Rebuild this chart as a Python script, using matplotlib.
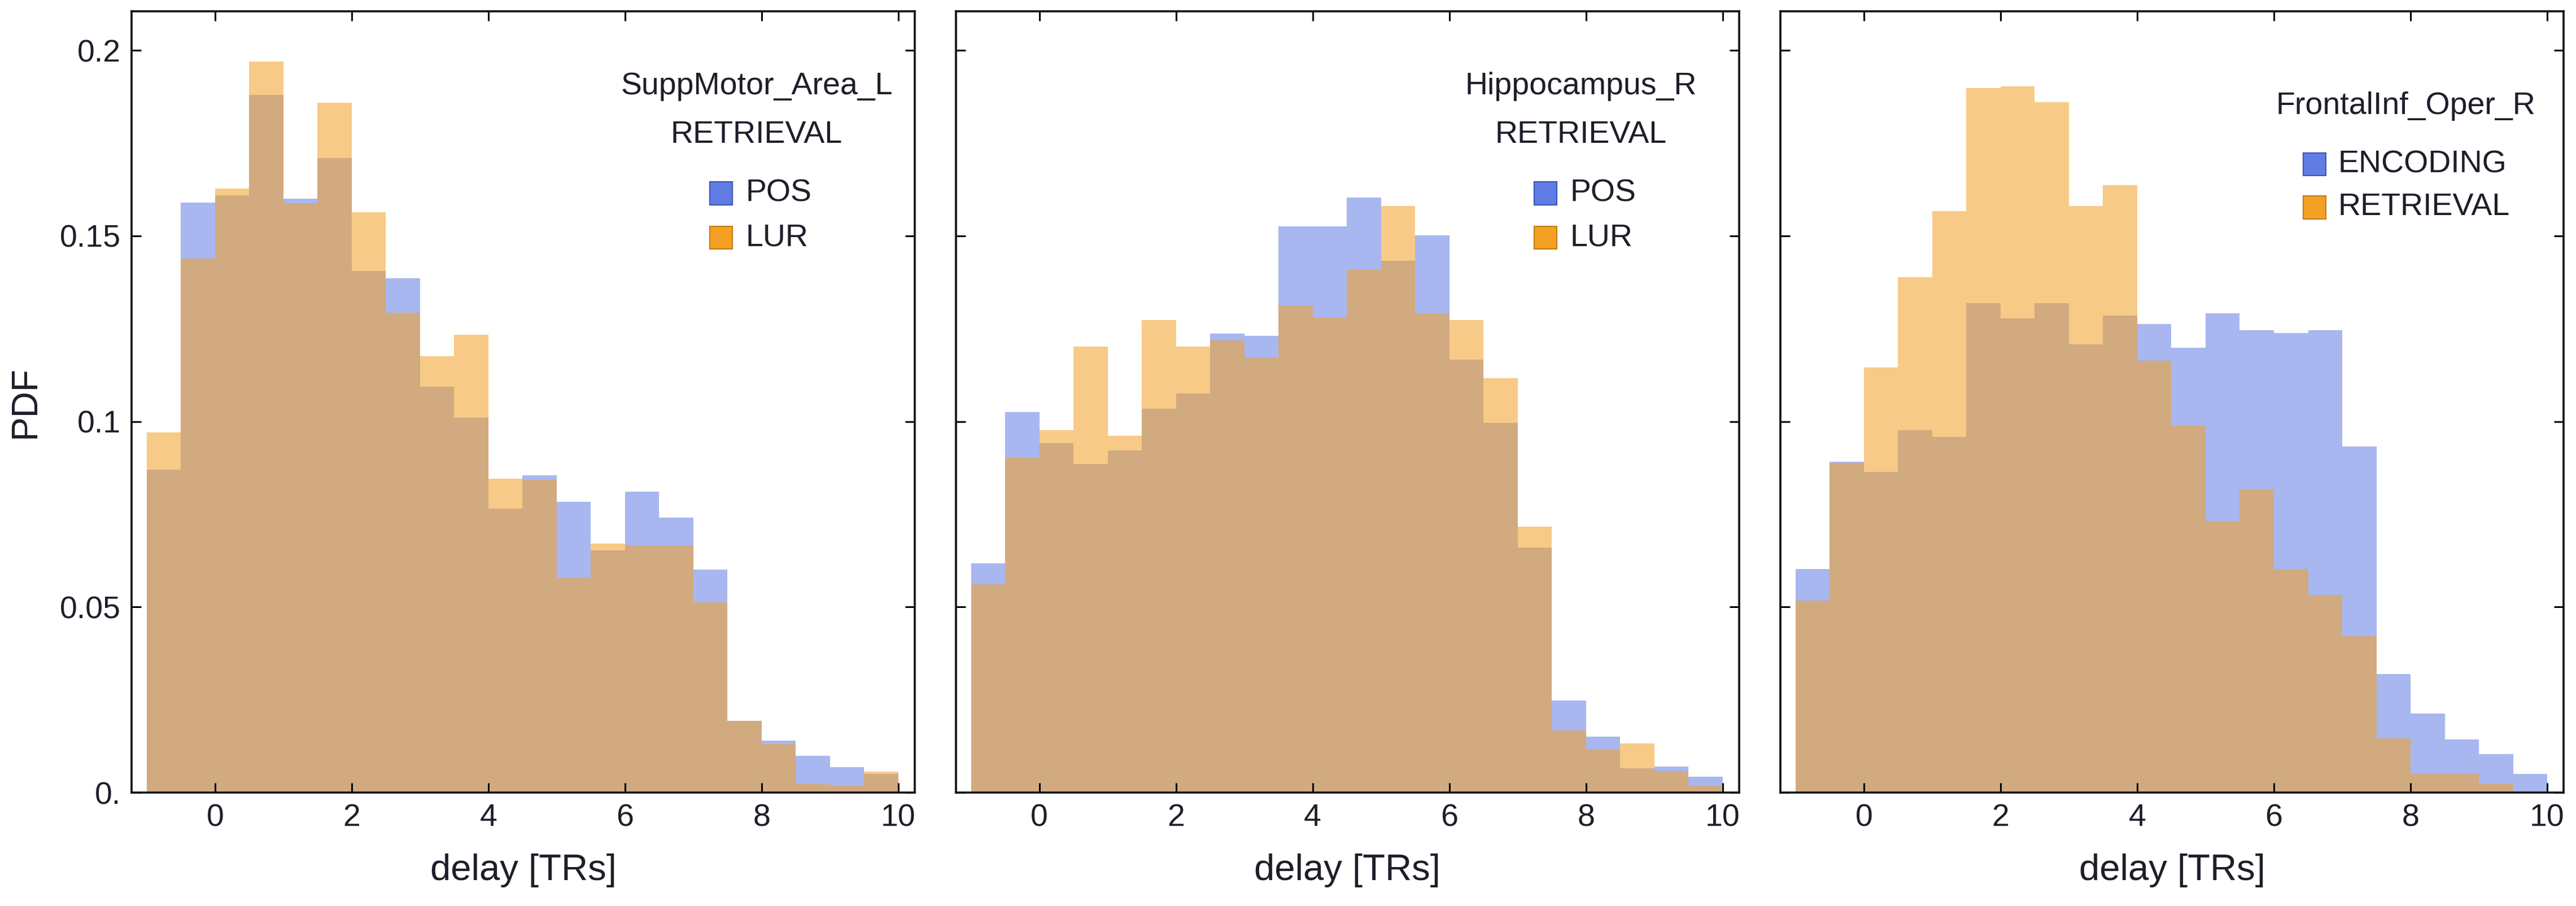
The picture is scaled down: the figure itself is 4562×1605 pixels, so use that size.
import numpy as np
import matplotlib.pyplot as plt
from matplotlib.patches import Rectangle

plt.rcParams['font.family'] = ['Liberation Sans', 'DejaVu Sans']

# histogram bins: delay [TRs], width 0.5 from -1 to 10
bin_edges = np.linspace(-1, 10, 23)

# panel 1: SuppMotor_Area_L, RETRIEVAL
supp_pos = [0.087, 0.159, 0.161, 0.188, 0.160, 0.171, 0.1405, 0.1386, 0.1094, 0.101, 0.0765,
            0.0855, 0.0783, 0.0653, 0.0811, 0.0741, 0.0601, 0.0194, 0.0140, 0.0099, 0.0068, 0.0050]
supp_lur = [0.097, 0.1439, 0.1627, 0.197, 0.1588, 0.1859, 0.1563, 0.1293, 0.1176, 0.1234, 0.0845,
            0.0842, 0.0578, 0.0671, 0.0667, 0.0667, 0.0513, 0.0194, 0.0131, 0.0023, 0.0019, 0.0056]

# panel 2: Hippocampus_R, RETRIEVAL
hippo_pos = [0.0618, 0.1025, 0.0941, 0.0886, 0.0922, 0.1034, 0.1075, 0.1237, 0.1231, 0.1525, 0.1525,
             0.1603, 0.1433, 0.1502, 0.1167, 0.0997, 0.0660, 0.0248, 0.0151, 0.0065, 0.0070, 0.0042]
hippo_lur = [0.0561, 0.0902, 0.0977, 0.1202, 0.0961, 0.1273, 0.1202, 0.1218, 0.1171, 0.1312, 0.1280,
             0.1408, 0.1581, 0.1291, 0.1273, 0.1117, 0.0717, 0.0167, 0.0117, 0.0132, 0.0058, 0.0019]

# panel 3: FrontalInf_Oper_R, ENCODING vs RETRIEVAL
front_enc = [0.0603, 0.0891, 0.0864, 0.0977, 0.0958, 0.1319, 0.1277, 0.1319, 0.1207, 0.1285, 0.1262,
             0.1199, 0.1291, 0.1245, 0.1238, 0.1245, 0.0933, 0.0319, 0.0213, 0.0143, 0.0104, 0.0050]
front_ret = [0.0517, 0.0889, 0.1145, 0.1389, 0.1567, 0.1899, 0.1903, 0.1860, 0.1581, 0.1636, 0.1164,
             0.0989, 0.0731, 0.0818, 0.0603, 0.0533, 0.0421, 0.0146, 0.0050, 0.0050, 0.0023, 0.0003]

panels = [
    (["SuppMotor_Area_L", "RETRIEVAL"], ["POS", "LUR"], supp_pos, supp_lur),
    (["Hippocampus_R", "RETRIEVAL"], ["POS", "LUR"], hippo_pos, hippo_lur),
    (["FrontalInf_Oper_R"], ["ENCODING", "RETRIEVAL"], front_enc, front_ret),
]

blue = "#617ce2"
orange = "#f4a025"
alpha = 0.55
txt = "#1e1e2a"

fig = plt.figure(figsize=(45.62, 16.05), dpi=100)
lefts = [0.0511, 0.3711, 0.6912]

for i, (title, labels, s1, s2) in enumerate(panels):
    ax = fig.add_axes([lefts[i], 0.1252, 0.3040, 0.8623])
    ax.stairs(s1, bin_edges, fill=True, color=blue, alpha=alpha, lw=0)
    ax.stairs(s2, bin_edges, fill=True, color=orange, alpha=alpha, lw=0)

    ax.set_xlim(-1.22, 10.24)
    ax.set_ylim(0, 0.2105)
    ax.set_xticks([0, 2, 4, 6, 8, 10])
    ax.set_yticks([0, 0.05, 0.1, 0.15, 0.2])
    ax.tick_params(direction="in", length=12, width=2.2, top=True, right=True,
                   labelsize=40, labelcolor=txt, pad=14)
    for sp in ax.spines.values():
        sp.set_linewidth(2.6)
        sp.set_color("#111111")
    if i == 0:
        ax.set_yticklabels(["0.", "0.05", "0.1", "0.15", "0.2"])
        ax.set_ylabel("PDF", fontsize=46, color=txt, labelpad=22)
    else:
        ax.set_yticklabels([])
    ax.set_xlabel("delay [TRs]", fontsize=47, color=txt, labelpad=26)

    # legend block
    if len(title) == 2:
        ty = [0.904, 0.842]
        rows = [0.767, 0.710]
        sx, tx = 0.753, 0.784
    else:
        ty = [0.879]
        rows = [0.804, 0.749]
        sx, tx = 0.682, 0.712
    for t, y in zip(title, ty):
        ax.text(0.798, y, t, transform=ax.transAxes, ha="center", va="center",
                fontsize=40, color=txt)
    for lab, y, fc, ec in zip(labels, rows, [blue, orange], ["#3a56b8", "#c27a10"]):
        ax.add_patch(Rectangle((sx - 0.0144, y - 0.0145), 0.0288, 0.029,
                               transform=ax.transAxes, facecolor=fc, edgecolor=ec, lw=1.5))
        ax.text(tx, y, lab, transform=ax.transAxes, ha="left", va="center",
                fontsize=40, color=txt)

fig.savefig("out.png", dpi=100)
